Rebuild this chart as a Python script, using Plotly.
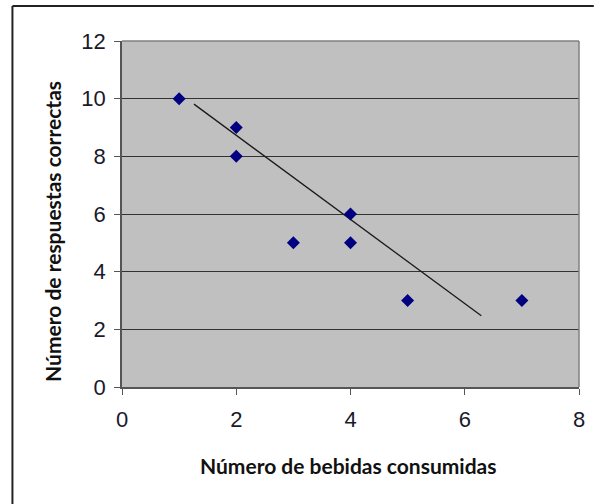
import plotly.graph_objects as go

# Data
bebidas = [1, 2, 2, 3, 4, 4, 5, 7]
respuestas = [10, 9, 8, 5, 6, 5, 3, 3]
trend_x = [1.26, 6.29]
trend_y = [9.81, 2.47]
x_ticks = [0, 2, 4, 6, 8]
y_ticks = [0, 2, 4, 6, 8, 10, 12]
x_title = "Número de bebidas consumidas"
y_title = "Número de respuestas correctas"

W, H = 595, 504
L, R, T, B = 122, 10, 41, 117
pw, ph = W - L - R, H - T - B

fig = go.Figure()
fig.add_trace(go.Scatter(x=trend_x, y=trend_y, mode="lines",
                         line=dict(color="#1a1a1a", width=1.3),
                         showlegend=False, hoverinfo="skip"))
fig.add_trace(go.Scatter(x=bebidas, y=respuestas, mode="markers",
                         marker=dict(symbol="diamond", size=10, color="#000080",
                                     line=dict(width=0)),
                         showlegend=False))

tickfont = dict(family="Liberation Sans, Arial, sans-serif", size=22, color="#1a1a2a")
fig.update_xaxes(range=[0, 8], tickvals=x_ticks, ticks="outside", ticklen=6,
                 tickcolor="#555", showline=True, linecolor="#555", linewidth=1.5,
                 showgrid=False, zeroline=False, tickfont=tickfont, mirror=False,
                 ticklabelstandoff=6)
fig.update_yaxes(range=[0, 12], tickvals=y_ticks, ticks="outside", ticklen=6,
                 tickcolor="#555", showline=True, linecolor="#555", linewidth=1.5,
                 showgrid=True, gridcolor="#333333", gridwidth=1.4, zeroline=False,
                 tickfont=tickfont, ticklabelstandoff=4)

titlefont = dict(family="Lato, Open Sans, sans-serif", size=21, color="#111")
annotations = [
    dict(text=f"<b>{x_title}</b>", xref="paper", yref="paper",
         x=(351 - L) / pw, y=1 - (465 - T) / ph, showarrow=False,
         xanchor="center", yanchor="middle", font=titlefont),
    dict(text=f"<b>{y_title}</b>", xref="paper", yref="paper",
         x=(51 - L) / pw, y=1 - (231 - T) / ph, showarrow=False, textangle=-90,
         xanchor="center", yanchor="middle", font=titlefont),
]

shapes = [
    # plot-area frame (top and right)
    dict(type="line", xref="paper", yref="paper", x0=0, x1=1, y0=1, y1=1,
         line=dict(color="#808080", width=1.5)),
    dict(type="line", xref="paper", yref="paper", x0=1, x1=1, y0=0, y1=1,
         line=dict(color="#808080", width=1.5)),
    # outer chart border (top and left visible)
    dict(type="line", xref="paper", yref="paper", x0=(11 - L) / pw, x1=(W + 5 - L) / pw,
         y0=1 + (T - 6) / ph, y1=1 + (T - 6) / ph, line=dict(color="#222", width=2)),
    dict(type="line", xref="paper", yref="paper", x0=(11 - L) / pw, x1=(11 - L) / pw,
         y0=1 + (T - 6) / ph, y1=-(B + 5) / ph, line=dict(color="#222", width=2)),
]

fig.update_layout(width=W, height=H, margin=dict(l=L, r=R, t=T, b=B, pad=0),
                  plot_bgcolor="#C0C0C0", paper_bgcolor="white",
                  annotations=annotations, shapes=shapes, showlegend=False)

fig.write_html("out.html", config={"displayModeBar": False},
               post_script="document.body.style.margin='0';document.body.style.overflow='hidden';")
